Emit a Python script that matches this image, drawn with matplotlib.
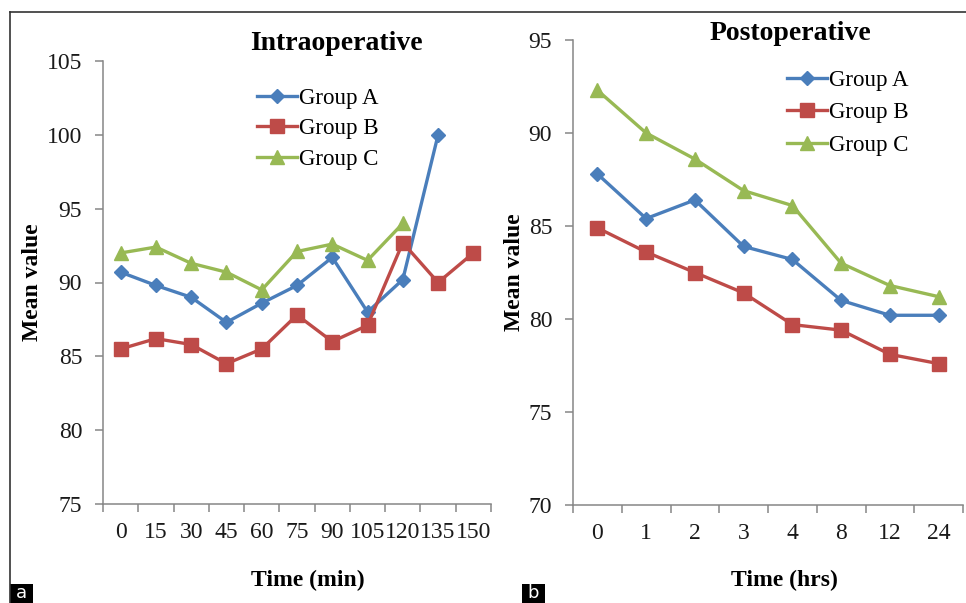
"""
plot.py
-------

Mean value of the three study groups over time, intraoperative (a) and
postoperative (b), drawn side by side in the old Excel look.
"""

import matplotlib

matplotlib.use("Agg")  # type: ignore
import matplotlib.pyplot as plt
from matplotlib.lines import Line2D
from matplotlib.patches import Rectangle

# Intraoperative panel (minutes)
intra_times = ["0", "15", "30", "45", "60", "75", "90", "105", "120", "135", "150"]
intra_a = [90.7, 89.8, 89.0, 87.3, 88.6, 89.8, 91.7, 88.0, 90.2, 100.0, None]
intra_b = [85.5, 86.2, 85.8, 84.5, 85.5, 87.8, 86.0, 87.1, 92.7, 90.0, 92.0]
intra_c = [92.0, 92.4, 91.3, 90.7, 89.5, 92.1, 92.6, 91.5, 94.0, None, None]
intra_yticks = [75, 80, 85, 90, 95, 100, 105]

# Postoperative panel (hours)
post_times = ["0", "1", "2", "3", "4", "8", "12", "24"]
post_a = [87.8, 85.4, 86.4, 83.9, 83.2, 81.0, 80.2, 80.2]
post_b = [84.9, 83.6, 82.5, 81.4, 79.7, 79.4, 78.1, 77.6]
post_c = [92.3, 90.0, 88.6, 86.9, 86.1, 83.0, 81.8, 81.2]
post_yticks = [70, 75, 80, 85, 90, 95]

group_names = ["Group A", "Group B", "Group C"]
group_colors = ["#4A7EBB", "#BE4B48", "#98B954"]
group_markers = ["D", "s", "^"]
group_msizes = [7, 10, 10]

SERIF = "Liberation Serif"
AXIS_GREY = "#868686"
W, H = 966.0, 603.0

plt.rcParams["font.family"] = SERIF


def clean(values):
    return [float("nan") if v is None else v for v in values]


def draw_panel(ax, times, series, yticks, title, title_xy, xlabel, xlabel_xy,
               ylabel_x, leg_anchor, leg_spacing):
    fig = ax.figure
    xs = list(range(len(times)))
    for vals, name, color, mk, ms in zip(series, group_names, group_colors,
                                          group_markers, group_msizes):
        ax.plot(xs, clean(vals), color=color, lw=2.4, marker=mk, ms=ms,
                mfc=color, mec=color, label=name, clip_on=False)

    ax.set_xlim(-0.5, len(times) - 0.5)
    ax.set_ylim(yticks[0], yticks[-1])
    ax.set_yticks(yticks)
    # ticks sit on category boundaries, labels in the middle
    ax.set_xticks([i - 0.5 for i in range(len(times) + 1)])
    ax.set_xticklabels([])
    ax.set_xticks(xs, minor=True)
    ax.set_xticklabels(times, minor=True)
    ax.tick_params(axis="x", which="major", direction="out", length=6,
                   width=1.1, color=AXIS_GREY)
    ax.tick_params(axis="x", which="minor", length=0, pad=13, labelsize=17,
                   labelcolor="#1a1a1a")
    ax.tick_params(axis="y", direction="out", length=6, width=1.1,
                   color=AXIS_GREY, pad=9, labelsize=17, labelcolor="#1a1a1a")

    for side in ("top", "right"):
        ax.spines[side].set_visible(False)
    for side in ("left", "bottom"):
        ax.spines[side].set_color(AXIS_GREY)
        ax.spines[side].set_linewidth(1.1)

    ax.set_ylabel("Mean value", fontsize=17, fontweight="bold")
    ax.yaxis.set_label_coords(ylabel_x, 0.5)

    fig.text(title_xy[0], title_xy[1], title, fontsize=20, fontweight="bold",
             ha="center", va="center")
    fig.text(xlabel_xy[0], xlabel_xy[1], xlabel, fontsize=17,
             fontweight="bold", ha="center", va="center")

    ax.legend(loc="upper left", bbox_to_anchor=leg_anchor,
              bbox_transform=fig.transFigure, frameon=False, fontsize=16.5,
              handlelength=1.75, handletextpad=0.1, labelspacing=leg_spacing,
              borderpad=0, borderaxespad=0)


def build_chart(out_path="out.png"):
    fig = plt.figure(figsize=(9.66, 6.03), dpi=100)

    ax_a = fig.add_axes([103 / W, 1 - 504 / H, 388 / W, 443 / H])
    ax_b = fig.add_axes([573 / W, 1 - 505 / H, 390 / W, 465 / H])

    draw_panel(ax_a, intra_times, [intra_a, intra_b, intra_c], intra_yticks,
               "Intraoperative", (336 / W, 1 - 44 / H),
               "Time (min)", (308 / W, 1 - 580 / H), (43 - 103) / 388,
               (257 / W, 1 - 88 / H), 0.41)
    draw_panel(ax_b, post_times, [post_a, post_b, post_c], post_yticks,
               "Postoperative", (790 / W, 1 - 33 / H),
               "Time (hrs)", (784 / W, 1 - 580 / H), (525 - 573) / 390,
               (787 / W, 1 - 70 / H), 0.49)

    # outer frame (top and left edges only)
    frame_kw = dict(color="#333333", lw=1.2, transform=fig.transFigure)
    fig.add_artist(Line2D([10 / W, 1], [1 - 12 / H, 1 - 12 / H], **frame_kw))
    fig.add_artist(Line2D([10 / W, 10 / W], [0, 1 - 12 / H], **frame_kw))

    # panel letters in black boxes
    for letter, x0 in (("a", 10), ("b", 522)):
        fig.add_artist(Rectangle((x0 / W, 0), 23 / W, 19 / H,
                                 transform=fig.transFigure,
                                 facecolor="black", edgecolor="none"))
        fig.text((x0 + 11.5) / W, 10 / H, letter, color="white",
                 fontsize=13, family="DejaVu Sans", ha="center", va="center")

    fig.savefig(out_path, dpi=100)
    plt.close(fig)


if __name__ == "__main__":
    build_chart()
